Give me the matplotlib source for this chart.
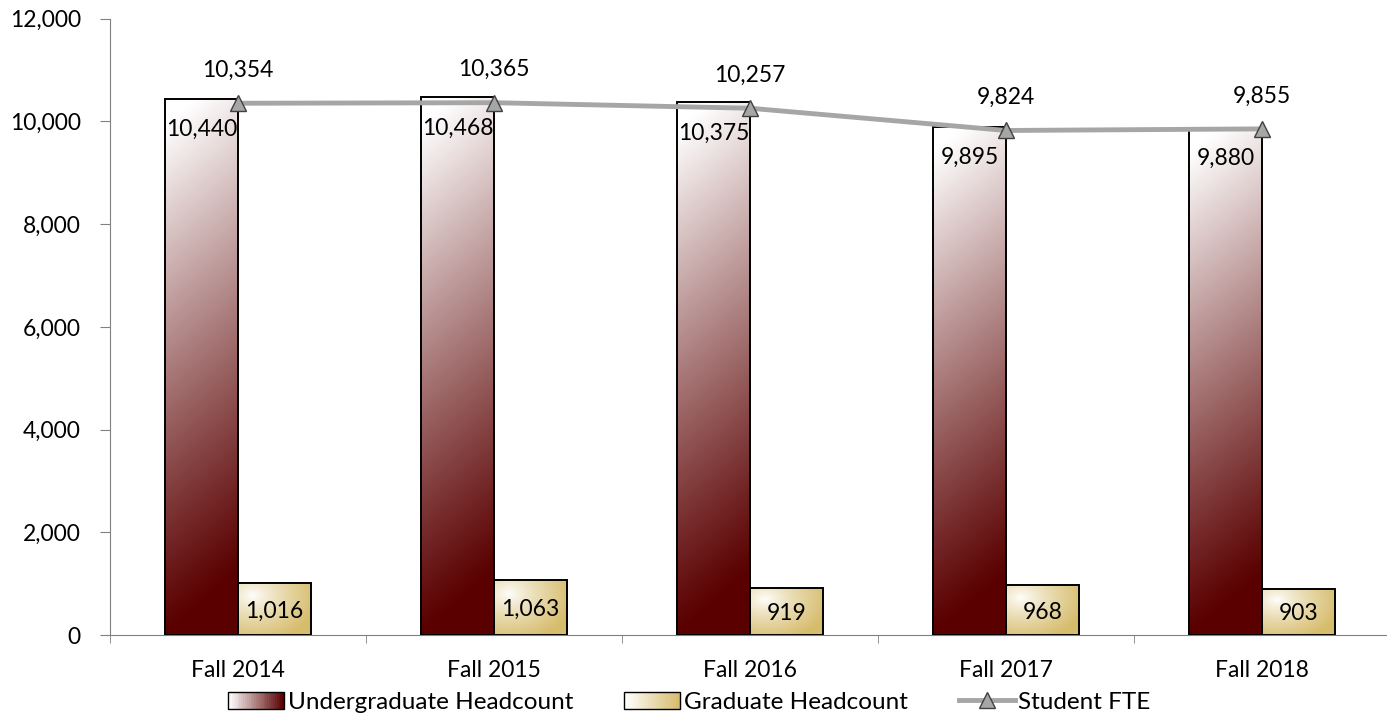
import numpy as np
import matplotlib.pyplot as plt
import matplotlib.colors as mcolors
from matplotlib.patches import Rectangle
from matplotlib.lines import Line2D
from matplotlib.legend_handler import HandlerBase
from matplotlib.ticker import FuncFormatter

plt.rcParams['font.family'] = ['Lato', 'DejaVu Sans']

# Data
terms = ["Fall 2014", "Fall 2015", "Fall 2016", "Fall 2017", "Fall 2018"]
undergrad = [10440, 10468, 10375, 9895, 9880]
graduate = [1016, 1063, 919, 968, 903]
fte = [10354, 10365, 10257, 9824, 9855]

MAROON = np.array(mcolors.to_rgb("#5a0000"))
GOLD = np.array(mcolors.to_rgb("#d6bc6c"))
WHITE = np.array([1.0, 1.0, 1.0])


def ug_gradient(n=200):
    yy, xx = np.mgrid[0:1:n * 1j, 0:1:40j]
    # yy: 0 bottom -> 1 top ; lighter toward top-left
    s = np.clip(yy * 1.05 - 0.12 * xx, 0, 1) ** 1.1
    img = MAROON[None, None, :] * (1 - s[..., None]) + WHITE[None, None, :] * s[..., None]
    return img


def grad_gradient(n=60):
    yy, xx = np.mgrid[0:1:n * 1j, 0:1:60j]
    d = np.sqrt((xx - 0.2) ** 2 + (yy - 0.75) ** 2) / 0.9
    s = np.clip(d, 0, 1) ** 0.8
    img = WHITE[None, None, :] * (1 - s[..., None]) + GOLD[None, None, :] * s[..., None]
    return img


fig = plt.figure(figsize=(13.87, 7.2), dpi=100)
ax = fig.add_axes([0.0793, 0.118, 0.923, 0.856])

x = np.arange(len(terms))
w = 0.285
ymax = 12000
FS = 16.5

ug_img = ug_gradient()
gr_img = grad_gradient()

for i in range(len(terms)):
    # undergraduate bar
    x0 = x[i] - w
    rect = Rectangle((x0, 0), w, undergrad[i], facecolor="none",
                     edgecolor="black", linewidth=1.4, zorder=3)
    ax.add_patch(rect)
    im = ax.imshow(ug_img, extent=(x0, x0 + w, 0, undergrad[i]),
                   origin="lower", aspect="auto", zorder=2, interpolation="bilinear")
    im.set_clip_path(rect)
    ax.text(x0 + w / 2, undergrad[i] - 600, f"{undergrad[i]:,}",
            ha="center", va="center", fontsize=FS, color="black", zorder=6)

    # graduate bar
    x1 = x[i]
    rect2 = Rectangle((x1, 0), w, graduate[i], facecolor="none",
                      edgecolor="black", linewidth=1.4, zorder=3)
    ax.add_patch(rect2)
    im2 = ax.imshow(gr_img, extent=(x1, x1 + w, 0, graduate[i]),
                    origin="lower", aspect="auto", zorder=2, interpolation="bilinear")
    im2.set_clip_path(rect2)
    ax.text(x1 + w / 2, graduate[i] / 2 - 40, f"{graduate[i]:,}",
            ha="center", va="center", fontsize=FS, color="black", zorder=6)

# FTE line
ax.plot(x, fte, color="#a6a6a6", linewidth=3.5, zorder=4,
        marker="^", markersize=11, markerfacecolor="#a6a6a6",
        markeredgecolor="#404040", markeredgewidth=1.0)
for i in range(len(terms)):
    ax.text(x[i], fte[i] + 640, f"{fte[i]:,}", ha="center", va="center",
            fontsize=FS, color="black", zorder=6)

ax.set_xlim(-0.5, len(terms) - 0.5)
ax.set_ylim(0, ymax)
ax.set_yticks(np.arange(0, 12001, 2000))
ax.yaxis.set_major_formatter(FuncFormatter(lambda v, p: f"{int(v):,}"))
ax.set_xticks(x)
ax.set_xticklabels(terms)
ax.set_xticks(np.arange(-0.5, len(terms), 1.0), minor=True)
ax.tick_params(axis="x", which="major", length=0, labelsize=16.5, pad=18)
ax.tick_params(axis="x", which="minor", length=6, color="#808080", direction="out")
ax.tick_params(axis="y", length=7, color="#808080", labelsize=16.5, direction="out",
               pad=14)

for s in ["top", "right"]:
    ax.spines[s].set_visible(False)
ax.spines["left"].set_color("#808080")
ax.spines["bottom"].set_color("#808080")


class GradientHandler(HandlerBase):
    def __init__(self, c_end):
        super().__init__()
        self.c_end = np.array(mcolors.to_rgb(c_end))

    def create_artists(self, legend, orig_handle, xdescent, ydescent,
                       width, height, fontsize, trans):
        arts = []
        n = 30
        for k in range(n):
            f = k / (n - 1)
            c = WHITE * (1 - f) + self.c_end * f
            r = Rectangle((-xdescent + width * k / n, -ydescent), width / n + 0.3,
                          height, facecolor=c, edgecolor="none", transform=trans)
            arts.append(r)
        arts.append(Rectangle((-xdescent, -ydescent), width, height,
                              facecolor="none", edgecolor="black", linewidth=1.0,
                              transform=trans))
        return arts


h_ug = Rectangle((0, 0), 1, 1)
h_gr = Rectangle((0, 0), 1, 1)
h_fte = Line2D([], [], color="#a6a6a6", linewidth=3.5, marker="^", markersize=11,
               markerfacecolor="#a6a6a6", markeredgecolor="#404040")

fig.legend([h_ug, h_gr, h_fte],
           ["Undergraduate Headcount", "Graduate Headcount", "Student FTE"],
           handler_map={h_ug: GradientHandler("#5a0000"),
                        h_gr: GradientHandler("#d6bc6c")},
           loc="lower center", bbox_to_anchor=(0.497, -0.02), ncol=3, frameon=False,
           fontsize=17.5, handlelength=2.3, handleheight=0.7, columnspacing=2.1,
           handletextpad=0.15)

fig.savefig("out.png", dpi=100)
